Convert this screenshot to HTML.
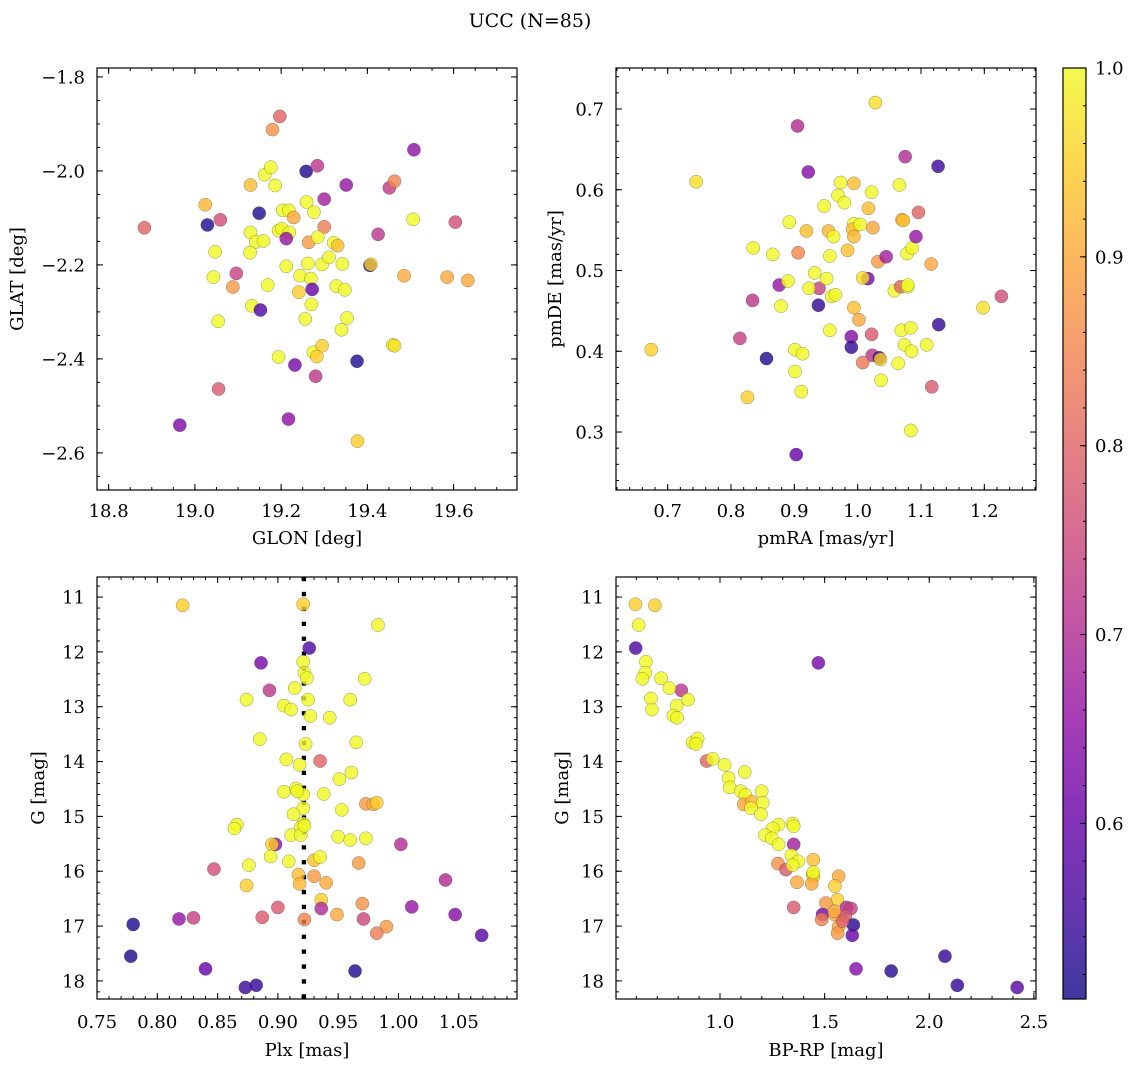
<!DOCTYPE html>
<html><head><meta charset="utf-8"><title>UCC (N=85)</title>
<style>
html,body{margin:0;padding:0;background:#fff;}
svg{display:block;font-family:"DejaVu Serif","Liberation Serif",serif;}
</style></head>
<body>
<svg id="fig" width="1136" height="1067" viewBox="0 0 1136 1067" xmlns="http://www.w3.org/2000/svg">
<text x="530" y="27" font-size="19" text-anchor="middle">UCC (N=85)</text>
</svg>
<script>
// ---- Panel 1: GLON vs GLAT ----
const glonVals=[18.883,18.965,19.024,19.029,19.059,19.047,19.043,19.096,19.088,19.054,19.055,19.129,19.162,19.176,19.186,19.149,19.129,19.141,19.159,19.128,19.169,19.132,19.152,19.197,19.180,19.204,19.218,19.229,19.194,19.202,19.219,19.212,19.212,19.194,19.232,19.217,19.258,19.284,19.259,19.276,19.300,19.300,19.264,19.285,19.262,19.244,19.269,19.241,19.272,19.270,19.256,19.275,19.295,19.283,19.280,19.295,19.311,19.322,19.331,19.342,19.328,19.348,19.353,19.340,19.351,19.376,19.377,19.406,19.408,19.425,19.451,19.463,19.506,19.508,19.485,19.459,19.463,19.585,19.604,19.633];
const glatVals=[-2.121,-2.541,-2.072,-2.115,-2.104,-2.172,-2.226,-2.218,-2.247,-2.320,-2.464,-2.030,-2.008,-1.992,-2.031,-2.090,-2.131,-2.151,-2.149,-2.174,-2.243,-2.287,-2.296,-1.884,-1.912,-2.084,-2.084,-2.099,-2.127,-2.123,-2.131,-2.144,-2.203,-2.396,-2.413,-2.528,-2.001,-1.989,-2.066,-2.088,-2.060,-2.119,-2.152,-2.141,-2.197,-2.223,-2.229,-2.258,-2.252,-2.284,-2.315,-2.386,-2.372,-2.395,-2.437,-2.199,-2.184,-2.153,-2.159,-2.198,-2.245,-2.253,-2.313,-2.338,-2.030,-2.405,-2.575,-2.201,-2.199,-2.135,-2.036,-2.022,-2.103,-1.955,-2.223,-2.370,-2.372,-2.226,-2.109,-2.233];
const probA=[0.8,0.63,0.92,0.52,0.76,1,1,0.74,0.88,1,0.78,0.93,1,1,1,0.52,1,1,1,1,1,1,0.57,0.8,0.87,1,1,0.9,1,1,1,0.66,1,1,0.62,0.65,0.52,0.72,1,1,0.68,0.84,0.88,1,1,1,1,0.95,0.6,1,1,1,0.95,0.95,0.72,1,1,1,0.93,1,1,1,1,1,0.66,0.52,0.95,0.52,0.95,0.72,0.73,0.85,1,0.65,0.9,1,0.97,0.9,0.76,0.9];
// ---- Panel 2: pmRA vs pmDE ----
const pmraVals=[0.674,0.745,0.826,0.814,0.835,0.834,0.856,0.866,0.876,0.890,0.879,0.892,0.901,0.913,0.901,0.911,0.903,0.905,0.906,0.919,0.922,0.932,0.939,0.923,0.938,0.947,0.951,0.956,0.956,0.954,0.962,0.959,0.965,0.973,0.969,0.979,0.984,0.994,1.002,0.994,0.994,0.992,0.994,1.004,0.990,0.990,1.016,1.008,1.022,1.017,1.024,1.028,1.022,1.023,1.034,1.036,1.008,1.037,1.032,1.045,1.058,1.068,1.079,1.079,1.066,1.070,1.072,1.075,1.078,1.086,1.092,1.096,1.069,1.084,1.074,1.085,1.064,1.084,1.109,1.116,1.127,1.128,1.117,1.198,1.227];
const pmdeVals=[0.402,0.610,0.343,0.416,0.528,0.463,0.391,0.520,0.482,0.487,0.456,0.560,0.402,0.397,0.375,0.350,0.272,0.679,0.522,0.549,0.622,0.497,0.478,0.478,0.457,0.580,0.490,0.518,0.426,0.549,0.542,0.468,0.470,0.609,0.593,0.584,0.525,0.454,0.439,0.608,0.558,0.551,0.542,0.557,0.418,0.405,0.490,0.491,0.597,0.577,0.553,0.708,0.421,0.395,0.392,0.390,0.386,0.364,0.511,0.517,0.475,0.480,0.480,0.482,0.606,0.563,0.562,0.641,0.521,0.528,0.542,0.572,0.426,0.429,0.408,0.400,0.385,0.302,0.408,0.508,0.629,0.433,0.356,0.454,0.468];
const probB=[0.95,0.97,0.95,0.74,1,0.72,0.52,1,0.66,1,1,1,1,1,1,1,0.6,0.7,0.85,0.93,0.64,1,0.74,1,0.54,1,1,1,1,0.92,1,1,1,1,1,1,0.93,0.93,0.9,0.93,1,0.93,0.92,1,0.64,0.54,0.62,0.97,1,0.93,0.9,0.97,0.78,0.72,0.55,0.95,0.83,1,0.88,0.68,1,0.8,1,1,1,0.92,0.93,0.7,1,1,0.66,0.8,1,1,1,1,1,1,1,0.9,0.55,0.54,0.78,0.97,0.76];
// ---- Panel 3: Plx vs G ----
const plxVals=[0.821,0.921,0.983,0.926,0.886,0.921,0.922,0.924,0.972,0.893,0.914,0.874,0.925,0.960,0.905,0.911,0.927,0.943,0.885,0.965,0.923,0.907,0.935,0.918,0.961,0.951,0.905,0.915,0.921,0.938,0.973,0.979,0.982,0.921,0.953,0.913,0.921,0.919,0.866,0.864,0.911,0.919,0.950,0.960,0.973,1.002,0.898,0.895,0.894,0.909,0.930,0.935,0.967,0.876,0.847,0.917,0.918,0.930,0.940,0.874,1.039,0.936,0.936,0.900,0.970,1.011,0.949,0.971,1.047,0.818,0.830,0.887,0.922,0.780,0.990,0.982,1.069,0.778,0.840,0.964,0.873,0.882,0.916,0.922];
const gmagC=[11.15,11.13,11.51,11.93,12.20,12.18,12.38,12.48,12.49,12.70,12.66,12.87,12.87,12.87,12.98,13.05,13.17,13.20,13.59,13.65,13.68,13.96,13.99,14.06,14.20,14.32,14.55,14.49,14.60,14.59,14.77,14.78,14.75,14.85,14.88,14.96,15.13,15.20,15.15,15.22,15.34,15.34,15.37,15.43,15.40,15.51,15.51,15.51,15.73,15.82,15.80,15.74,15.85,15.89,15.96,16.06,16.23,16.09,16.21,16.26,16.16,16.52,16.68,16.66,16.59,16.65,16.79,16.87,16.79,16.87,16.85,16.84,16.88,16.97,17.01,17.13,17.17,17.55,17.78,17.82,18.12,18.08,14.54,15.17];
const probC=[0.95,0.95,1,0.57,0.62,1,1,1,1,0.72,1,1,1,1,1,1,1,1,1,1,1,1,0.8,1,1,1,1,1,1,1,0.88,0.9,0.95,1,1,1,1,1,1,1,1,1,1,1,1,0.7,0.65,0.95,1,1,0.93,1,0.88,1,0.76,0.93,0.92,0.88,0.9,0.95,0.7,0.95,0.7,0.78,0.87,0.66,0.9,0.75,0.64,0.66,0.74,0.78,0.85,0.52,0.88,0.84,0.58,0.52,0.6,0.52,0.55,0.54,1,1];
const plxLine=[0.9216];
// ---- Panel 4: BP-RP vs G ----
const bprpVals=[0.596,0.689,0.611,0.597,1.470,0.646,0.643,0.629,0.718,0.815,0.758,0.670,0.675,0.847,0.793,0.777,0.795,0.869,0.893,0.885,0.936,0.965,1.022,1.118,1.041,1.046,1.099,1.199,1.121,1.113,1.153,1.204,1.148,1.196,1.280,1.347,1.352,1.252,1.215,1.248,1.280,1.352,1.341,1.373,1.446,1.277,1.315,1.347,1.443,1.446,1.438,1.368,1.567,1.549,1.561,1.352,1.506,1.605,1.626,1.490,1.548,1.486,1.599,1.567,1.562,1.637,1.632,1.650,1.818,2.075,2.134,2.420,1.446,1.546,1.586];
const gmagD=[11.13,11.15,11.51,11.93,12.20,12.18,12.38,12.49,12.48,12.70,12.66,12.85,13.05,12.87,12.98,13.16,13.20,13.65,13.58,13.68,13.99,13.95,14.06,14.19,14.30,14.47,14.54,14.54,14.61,14.78,14.73,14.75,14.85,14.96,15.15,15.13,15.18,15.22,15.34,15.40,15.51,15.51,15.71,15.82,15.79,15.86,15.97,15.89,16.06,16.10,16.23,16.20,16.09,16.27,16.52,16.66,16.58,16.66,16.68,16.79,16.79,16.88,16.82,17.01,17.13,16.98,17.17,17.78,17.82,17.55,18.08,18.12,16.02,16.73,16.91];
const probD=[0.95,0.95,1,0.57,0.62,1,1,1,1,0.72,1,1,1,1,1,1,1,1,1,1,0.8,1,1,1,1,1,1,1,1,0.9,0.92,1,1,1,1,1,1,1,1,1,1,0.68,1,1,0.93,0.87,0.78,1,1,0.95,0.9,0.9,0.9,0.95,0.95,0.78,0.88,0.7,0.74,0.62,0.9,0.84,0.78,0.9,0.88,0.53,0.6,0.64,0.53,0.54,0.54,0.58,1,0.9,0.8];
// colorbar
const cbTicks=[0.6,0.7,0.8,0.9,1.0];
const cbRange=[0.507,1.0];

const NS="http://www.w3.org/2000/svg";
const svg=document.getElementById('fig');
const FS=18;
function mk(tag,attrs,parent){const e=document.createElementNS(NS,tag);for(const k in attrs)e.setAttribute(k,attrs[k]);(parent||svg).appendChild(e);return e;}
const stops=[[13,8,135],[65,4,157],[106,0,168],[143,13,164],[177,42,144],[204,71,120],[225,100,98],[242,132,75],[252,166,54],[252,206,37],[240,249,33]];
function cmap(v){let t=(v-cbRange[0])/(cbRange[1]-cbRange[0]);t=Math.max(0,Math.min(1,t))*10;const i=Math.min(9,Math.floor(t)),f=t-i;const a=stops[i],b=stops[i+1];return 'rgb('+a.map((c,k)=>Math.round(c+(b[k]-c)*f)).join(',')+')';}
function fmtNum(v,d){const s=Math.abs(v).toFixed(d);return (v<-1e-9?'\u2212':'')+s;}

function panel(o){
  const g=mk('g',{});
  
  
  const X=v=>o.L+(v-o.xd[0])/(o.xd[1]-o.xd[0])*(o.R-o.L);
  const Y=o.yinv? (v=>o.T+(v-o.yd[0])/(o.yd[1]-o.yd[0])*(o.B-o.T)) : (v=>o.B-(v-o.yd[0])/(o.yd[1]-o.yd[0])*(o.B-o.T));
  const clip='clip-'+o.name;
  const cp=mk('clipPath',{id:clip},g);mk('rect',{x:o.L,y:o.T,width:o.R-o.L,height:o.B-o.T},cp);
  const pts=mk('g',{'clip-path':'url(#'+clip+')'},g);
  
  
  if(o.vline){
    const ln=mk('line',{x1:X(o.vline[0]),x2:X(o.vline[0]),y1:o.T,y2:o.B,stroke:'#000','stroke-width':4.3,'stroke-dasharray':'4.3 10.6'},pts);
    
    
  }
  for(let i=0;i<o.xs.length;i++){
    const c=mk('circle',{cx:X(o.xs[i]).toFixed(2),cy:Y(o.ys[i]).toFixed(2),r:6.6,fill:cmap(o.ps[i]),'fill-opacity':0.8,stroke:'#444','stroke-opacity':0.55,'stroke-width':0.5},pts);
    
    
  }
  const fr=mk('rect',{x:o.L,y:o.T,width:o.R-o.L,height:o.B-o.T,fill:'none',stroke:'#000','stroke-width':1.2},g);
  
  
  const tk=mk('g',{stroke:'#000','stroke-width':1},g);
  function ticks(d,step){const r=[];const a=Math.ceil(d[0]/step-1e-6),b=Math.floor(d[1]/step+1e-6);for(let k=a;k<=b;k++)r.push(k*step);return r;}
  ticks(o.xd,o.xminor).forEach(v=>{const x=X(v);mk('line',{x1:x,x2:x,y1:o.B,y2:o.B-3},tk);mk('line',{x1:x,x2:x,y1:o.T,y2:o.T+3},tk);});
  ticks(o.yd,o.yminor).forEach(v=>{const y=Y(v);mk('line',{x1:o.L,x2:o.L+3,y1:y,y2:y},tk);mk('line',{x1:o.R,x2:o.R-3,y1:y,y2:y},tk);});
  ticks(o.xd,o.xmajor).forEach(v=>{const x=X(v);mk('line',{x1:x,x2:x,y1:o.B,y2:o.B-6},tk);mk('line',{x1:x,x2:x,y1:o.T,y2:o.T+6},tk);
    const t=mk('text',{x:x,y:o.B+o.xtoff,'font-size':FS,'text-anchor':'middle'},g);t.textContent=fmtNum(v,o.xdec);
    
    });
  ticks(o.yd,o.ymajor).forEach(v=>{const y=Y(v);mk('line',{x1:o.L,x2:o.L+6,y1:y,y2:y},tk);mk('line',{x1:o.R,x2:o.R-6,y1:y,y2:y},tk);
    const t=mk('text',{x:o.L-12,y:y+6.5,'font-size':FS,'text-anchor':'end'},g);t.textContent=fmtNum(v,o.ydec);
    
    });
  const xl=mk('text',{x:(o.L+o.R)/2,y:o.B+o.xloff,'font-size':FS,'text-anchor':'middle'},g);xl.textContent=o.xlabel;
  
  
  const yc=(o.T+o.B)/2;
  const yl=mk('text',{x:o.ylx,y:yc,'font-size':FS,'text-anchor':'middle',transform:'rotate(-90 '+o.ylx+' '+yc+')'},g);yl.textContent=o.ylabel;
  
  
}

panel({name:'glon-glat-panel',L:97,R:517,T:68,B:490,xd:[18.773,19.747],yd:[-2.679,-1.781],xs:glonVals,ys:glatVals,ps:probA,xmajor:0.2,xminor:0.05,ymajor:0.2,yminor:0.05,xdec:1,ydec:1,xlabel:'GLON [deg]',ylabel:'GLAT [deg]',ylx:23,xtoff:27,xloff:54});
panel({name:'pm-panel',L:616,R:1036,T:68,B:490,xd:[0.6184,1.2816],yd:[0.2282,0.7508],xs:pmraVals,ys:pmdeVals,ps:probB,xmajor:0.1,xminor:0.02,ymajor:0.1,yminor:0.02,xdec:1,ydec:1,xlabel:'pmRA [mas/yr]',ylabel:'pmDE [mas/yr]',ylx:561,xtoff:27,xloff:54});
panel({name:'plx-g-panel',L:97,R:517,T:577,B:999,xd:[0.75,1.0983],yd:[10.634,18.33],yinv:true,xs:plxVals,ys:gmagC,ps:probC,vline:plxLine,xmajor:0.05,xminor:0.01,ymajor:1,yminor:0.2,xdec:2,ydec:0,xlabel:'Plx [mas]',ylabel:'G [mag]',ylx:44,xtoff:29,xloff:57});
panel({name:'cmd-panel',L:616,R:1036,T:577,B:999,xd:[0.503,2.51],yd:[10.634,18.33],yinv:true,xs:bprpVals,ys:gmagD,ps:probD,xmajor:0.5,xminor:0.1,ymajor:1,yminor:0.2,xdec:1,ydec:0,xlabel:'BP-RP [mag]',ylabel:'G [mag]',ylx:568,xtoff:29,xloff:57});

(function(){
  const L=1063,R=1086,T=68,B=999;
  const g=mk('g',{});
  
  
  const defs=mk('defs',{},g);
  const lg=mk('linearGradient',{id:'cbgrad',x1:0,y1:1,x2:0,y2:0},defs);
  for(let i=0;i<=20;i++){const v=cbRange[0]+(cbRange[1]-cbRange[0])*i/20;mk('stop',{offset:i/20,'stop-color':cmap(v)},lg);}
  mk('rect',{x:L,y:T,width:R-L,height:B-T,fill:'url(#cbgrad)','fill-opacity':0.8},g);
  mk('rect',{x:L,y:T,width:R-L,height:B-T,fill:'none',stroke:'#000','stroke-width':1.2},g);
  const Y=v=>B-(v-cbRange[0])/(cbRange[1]-cbRange[0])*(B-T);
  for(let k=Math.ceil(cbRange[0]/0.02-1e-6);k<=Math.floor(cbRange[1]/0.02+1e-6);k++){const y=Y(k*0.02);mk('line',{x1:R,x2:R-3,y1:y,y2:y,stroke:'#000'},g);}
  cbTicks.forEach(v=>{const y=Y(v);mk('line',{x1:R,x2:R-6,y1:y,y2:y,stroke:'#000'},g);
    const t=mk('text',{x:R+9,y:y+6.5,'font-size':FS},g);t.textContent=v.toFixed(1);
    
    });
})();
</script>
</body></html>
